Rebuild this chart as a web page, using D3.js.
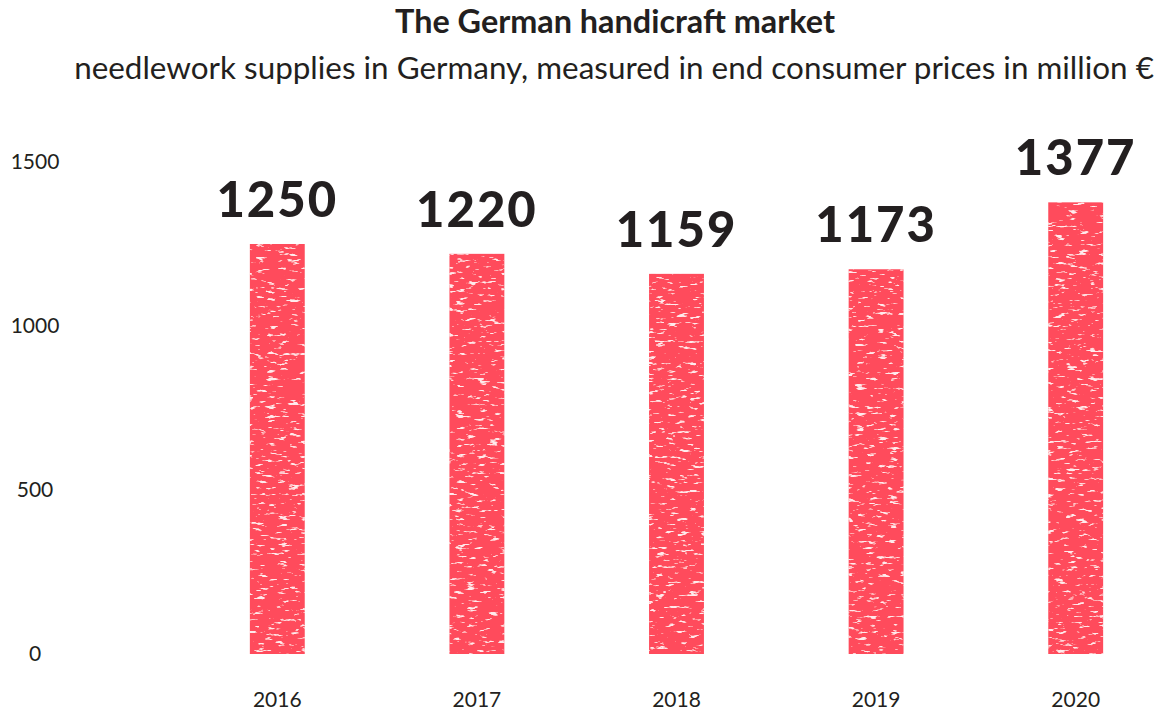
<!DOCTYPE html>
<html>
<head>
<meta charset="utf-8">
<script src="https://cdn.jsdelivr.net/npm/d3@7"></script>
<style>
  html, body { margin: 0; padding: 0; background: #fff; }
  svg { display: block; }
  text { font-family: Lato, "Noto Sans", sans-serif; fill: #231f20; }
</style>
</head>
<body>
<svg id="chart" width="1162" height="713"></svg>
<script>
// Market size, needlework supplies (million €)
const years = ["2016", "2017", "2018", "2019", "2020"];
const values = [1250, 1220, 1159, 1173, 1377];
const yTicks = [0, 500, 1000, 1500];

const titleText = "The German handicraft market";
const subtitleText = "needlework supplies in Germany, measured in end consumer prices in million €";

const W = 1162, H = 713;
const svg = d3.select("#chart");

// Speckled chalk texture for the bars
const defs = svg.append("defs");
const f = defs.append("filter").attr("id", "grain")
  .attr("x", 0).attr("y", 0).attr("width", 1).attr("height", 1);
f.append("feTurbulence").attr("type", "fractalNoise")
  .attr("baseFrequency", "0.09 0.32").attr("numOctaves", 3).attr("seed", 7)
  .attr("result", "noise");
f.append("feColorMatrix").attr("in", "noise").attr("type", "matrix")
  .attr("values", "0 0 0 0 1  0 0 0 0 0.82  0 0 0 0 0.84  9 0 0 0 -5.6")
  .attr("result", "speck");
f.append("feGaussianBlur").attr("in", "speck").attr("stdDeviation", 0.5).attr("result", "speckSoft");
f.append("feComposite").attr("in", "speckSoft").attr("in2", "SourceGraphic")
  .attr("operator", "in").attr("result", "speckIn");
const merge = f.append("feMerge");
merge.append("feMergeNode").attr("in", "SourceGraphic");
merge.append("feMergeNode").attr("in", "speckIn");

// Scales
const x = d3.scaleBand().domain(years).range([178, 1175]).paddingInner(0.725).paddingOuter(0.36);
const y = d3.scaleLinear().domain([0, 1500]).range([654, 162]);

// Fit a text element to a target width
function fitWidth(sel, target) {
  const base = parseFloat(sel.style("font-size"));
  const w = sel.node().getComputedTextLength();
  sel.style("font-size", (base * target / w).toFixed(2) + "px");
}

// Title block
const title = svg.append("text").attr("x", 615).attr("y", 33)
  .attr("text-anchor", "middle").style("font-weight", 700).style("font-size", "26px")
  .text(titleText);
fitWidth(title, 440);
const sub = svg.append("text").attr("x", 614).attr("y", 79)
  .attr("text-anchor", "middle").style("font-size", "26px")
  .text(subtitleText);
fitWidth(sub, 1080);

// Y axis labels (no line, no ticks)
const yAxis = d3.axisLeft(y).tickValues(yTicks).tickFormat(d3.format("d")).tickSize(0).tickPadding(0);
const gy = svg.append("g").attr("transform", "translate(35,0)").call(yAxis);
gy.select(".domain").remove();
gy.selectAll("text").attr("text-anchor", "middle").attr("x", 0)
  .style("font-size", "21px").style("font-family", "Lato, 'Noto Sans', sans-serif").attr("fill", "#231f20");

// X axis labels
const xAxis = d3.axisBottom(x).tickSize(0).tickPadding(0);
const gx = svg.append("g").attr("transform", "translate(0,692)").call(xAxis);
gx.select(".domain").remove();
gx.selectAll("text").attr("dy", "0.71em")
  .style("font-size", "21px").style("font-family", "Lato, 'Noto Sans', sans-serif").attr("fill", "#231f20");

// Bars
svg.append("g").selectAll("rect").data(values).join("rect")
  .attr("x", (d, i) => x(years[i]))
  .attr("width", x.bandwidth())
  .attr("y", d => y(d))
  .attr("height", d => y(0) - y(d))
  .attr("fill", "#ff4c5c")
  .attr("filter", "url(#grain)");

// Value labels
svg.append("g").selectAll("text").data(values).join("text")
  .attr("x", (d, i) => x(years[i]) + x.bandwidth() / 2)
  .attr("y", d => y(d) - 27)
  .attr("text-anchor", "middle")
  .style("font-weight", 900).style("font-size", "49px").style("letter-spacing", "2px")
  .text(d => d);
</script>
</body>
</html>
